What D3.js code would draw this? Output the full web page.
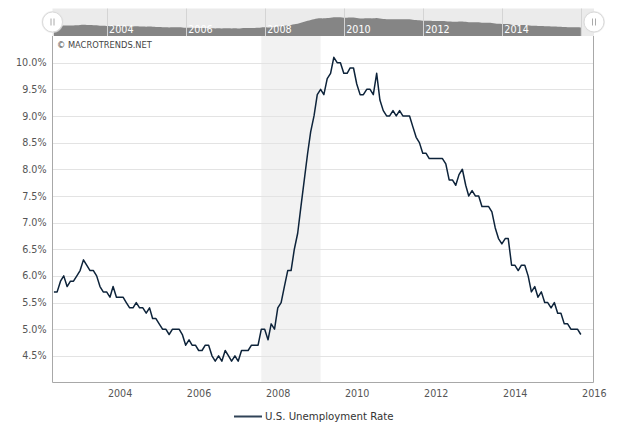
<!DOCTYPE html>
<html>
<head>
<meta charset="utf-8">
<script src="https://cdn.jsdelivr.net/npm/d3@7"></script>
<style>
html,body{margin:0;padding:0;background:#fff;}
svg{display:block;font-family:"DejaVu Sans",Verdana,sans-serif;}
</style>
</head>
<body>
<svg id="chart" width="640" height="429"></svg>
<script>
// ---- data (monthly, starting Sep 2002) ----
const firstMonth = "2002-09";
const rates2002 = [5.7, 5.7, 5.9, 6.0];
const rates2003 = [5.8, 5.9, 5.9, 6.0, 6.1, 6.3, 6.2, 6.1, 6.1, 6.0, 5.8, 5.7];
const rates2004 = [5.7, 5.6, 5.8, 5.6, 5.6, 5.6, 5.5, 5.4, 5.4, 5.5, 5.4, 5.4];
const rates2005 = [5.3, 5.4, 5.2, 5.2, 5.1, 5.0, 5.0, 4.9, 5.0, 5.0, 5.0, 4.9];
const rates2006 = [4.7, 4.8, 4.7, 4.7, 4.6, 4.6, 4.7, 4.7, 4.5, 4.4, 4.5, 4.4];
const rates2007 = [4.6, 4.5, 4.4, 4.5, 4.4, 4.6, 4.6, 4.6, 4.7, 4.7, 4.7, 5.0];
const rates2008 = [5.0, 4.8, 5.1, 5.0, 5.4, 5.5, 5.8, 6.1, 6.1, 6.5, 6.8, 7.3];
const rates2009 = [7.8, 8.3, 8.7, 9.0, 9.4, 9.5, 9.4, 9.7, 9.8, 10.1, 10.0, 10.0];
const rates2010 = [9.8, 9.8, 9.9, 9.9, 9.6, 9.4, 9.4, 9.5, 9.5, 9.4, 9.8, 9.3];
const rates2011 = [9.1, 9.0, 9.0, 9.1, 9.0, 9.1, 9.0, 9.0, 9.0, 8.8, 8.6, 8.5];
const rates2012 = [8.3, 8.3, 8.2, 8.2, 8.2, 8.2, 8.2, 8.1, 7.8, 7.8, 7.7, 7.9];
const rates2013 = [8.0, 7.7, 7.5, 7.6, 7.5, 7.5, 7.3, 7.3, 7.3, 7.2, 6.9, 6.7];
const rates2014 = [6.6, 6.7, 6.7, 6.2, 6.2, 6.1, 6.2, 6.2, 6.0, 5.7, 5.8, 5.6];
const rates2015 = [5.7, 5.5, 5.5, 5.4, 5.5, 5.3, 5.3, 5.1, 5.1, 5.0, 5.0, 5.0];
const rates2016 = [4.9];

const yTickValues = [4.5, 5.0, 5.5, 6.0, 6.5, 7.0, 7.5, 8.0, 8.5, 9.0, 9.5, 10.0];
const xTickYears = [2004, 2006, 2008, 2010, 2012, 2014, 2016];
const navYears = [2004, 2006, 2008, 2010, 2012, 2014, 2016];
const navLabelYears = [2004, 2006, 2008, 2010, 2012, 2014];
const recessionBand = ["2007-12", "2009-06"];
const seriesName = "U.S. Unemployment Rate";
const creditText = "\u00A9 MACROTRENDS.NET";

// ---- build ----
const parseMonth = d3.timeParse("%Y-%m");
const rates = [].concat(rates2002, rates2003, rates2004, rates2005, rates2006, rates2007,
  rates2008, rates2009, rates2010, rates2011, rates2012, rates2013, rates2014, rates2015, rates2016);
const start = parseMonth(firstMonth);
const data = rates.map((v, i) => ({date: d3.timeMonth.offset(start, i), value: v}));

const svg = d3.select("#chart");
const plot = {left: 52.5, right: 593.5, top: 36, bottom: 382.5};

const x = d3.scaleTime()
  .domain([new Date(2002, 7, 19), new Date(2016, 3, 27)])
  .range([plot.left, plot.right]);
const y = d3.scaleLinear().domain([4.0, 10.5]).range([plot.bottom, plot.top]);

const lineColor = "#0d233a";

// recession band
svg.append("rect")
  .attr("x", x(parseMonth(recessionBand[0])))
  .attr("y", plot.top)
  .attr("width", x(parseMonth(recessionBand[1])) - x(parseMonth(recessionBand[0])))
  .attr("height", plot.bottom - plot.top)
  .attr("fill", "#f2f2f2");

// grid
svg.append("g").selectAll("line").data(yTickValues).join("line")
  .attr("x1", plot.left).attr("x2", plot.right)
  .attr("y1", d => Math.round(y(d)) + 0.5).attr("y2", d => Math.round(y(d)) + 0.5)
  .attr("stroke", "#e3e3e3").attr("stroke-width", 1);

// y axis labels
const yAxis = d3.axisLeft(y).tickValues(yTickValues)
  .tickFormat(d => d3.format(".1f")(d) + "%").tickSize(0).tickPadding(6);
const gy = svg.append("g").attr("transform", `translate(${plot.left},0)`).call(yAxis);
gy.select(".domain").remove();
gy.selectAll("text").attr("fill", "#555").attr("font-size", "9.6px")
  .attr("font-family", '"DejaVu Sans",Verdana,sans-serif');

// x axis labels
const xAxis = d3.axisBottom(x)
  .tickValues(xTickYears.map(yr => new Date(yr, 3, 30)))
  .tickFormat(d3.timeFormat("%Y")).tickSize(0).tickPadding(8);
const gx = svg.append("g").attr("transform", `translate(0,${plot.bottom})`).call(xAxis);
gx.select(".domain").remove();
gx.selectAll("text").attr("fill", "#555").attr("font-size", "9.6px")
  .attr("font-family", '"DejaVu Sans",Verdana,sans-serif');

// plot border (left, bottom, right)
svg.append("path")
  .attr("d", `M${plot.left},${plot.top}V${plot.bottom}H${plot.right}V${plot.top}`)
  .attr("fill", "none").attr("stroke", "#a8a8a8").attr("stroke-width", 1);

// series line
svg.append("path").datum(data)
  .attr("d", d3.line().x(d => x(d.date)).y(d => y(d.value)))
  .attr("fill", "none").attr("stroke", lineColor).attr("stroke-width", 1.5)
  .attr("stroke-linejoin", "round");

// credit
svg.append("text").attr("x", 57).attr("y", 47.5)
  .attr("font-size", "8.3px").attr("fill", "#444").text(creditText);

// ---- navigator ----
const nav = {top: 8.5, bottom: 36};
const navY = d3.scaleLinear().domain([4.5, 10.0]).range([28.3, 17.3]);
svg.append("rect").attr("x", plot.left).attr("y", nav.top)
  .attr("width", 594 - plot.left).attr("height", nav.bottom - nav.top)
  .attr("fill", "#ebebeb");
svg.append("path").datum(data)
  .attr("d", d3.area().x(d => x(d.date)).y0(nav.bottom).y1(d => navY(d.value)).curve(d3.curveBasis))
  .attr("fill", "#858585");
svg.append("g").selectAll("line").data(navYears).join("line")
  .attr("x1", d => Math.round(x(new Date(d, 0, 1))) + 0.5)
  .attr("x2", d => Math.round(x(new Date(d, 0, 1))) + 0.5)
  .attr("y1", nav.top).attr("y2", nav.bottom)
  .attr("stroke", "#d4d4d4").attr("stroke-width", 1);
svg.append("g").selectAll("text").data(navLabelYears).join("text")
  .attr("x", d => x(new Date(d, 0, 1)) + 2.5).attr("y", 32.5)
  .attr("font-size", "9.6px").attr("fill", "#fff").text(d => d);

// handles
[plot.left, 594].forEach(hx => {
  const g = svg.append("g").attr("transform", `translate(${hx},22)`);
  g.append("circle").attr("r", 11).attr("fill", "#e6e6e6").attr("opacity", 0.7);
  g.append("circle").attr("r", 10).attr("fill", "#fff").attr("stroke", "#dadada").attr("stroke-width", 1);
  g.append("line").attr("x1", -1.5).attr("x2", -1.5).attr("y1", -3.5).attr("y2", 3.5).attr("stroke", "#aaa");
  g.append("line").attr("x1", 1.5).attr("x2", 1.5).attr("y1", -3.5).attr("y2", 3.5).attr("stroke", "#aaa");
});

// ---- legend ----
svg.append("line").attr("x1", 234).attr("x2", 262).attr("y1", 416.5).attr("y2", 416.5)
  .attr("stroke", lineColor).attr("stroke-width", 2).attr("opacity", 0.85);
svg.append("text").attr("x", 265).attr("y", 420)
  .attr("font-size", "10.2px").attr("fill", "#333").text(seriesName);
</script>
</body>
</html>
